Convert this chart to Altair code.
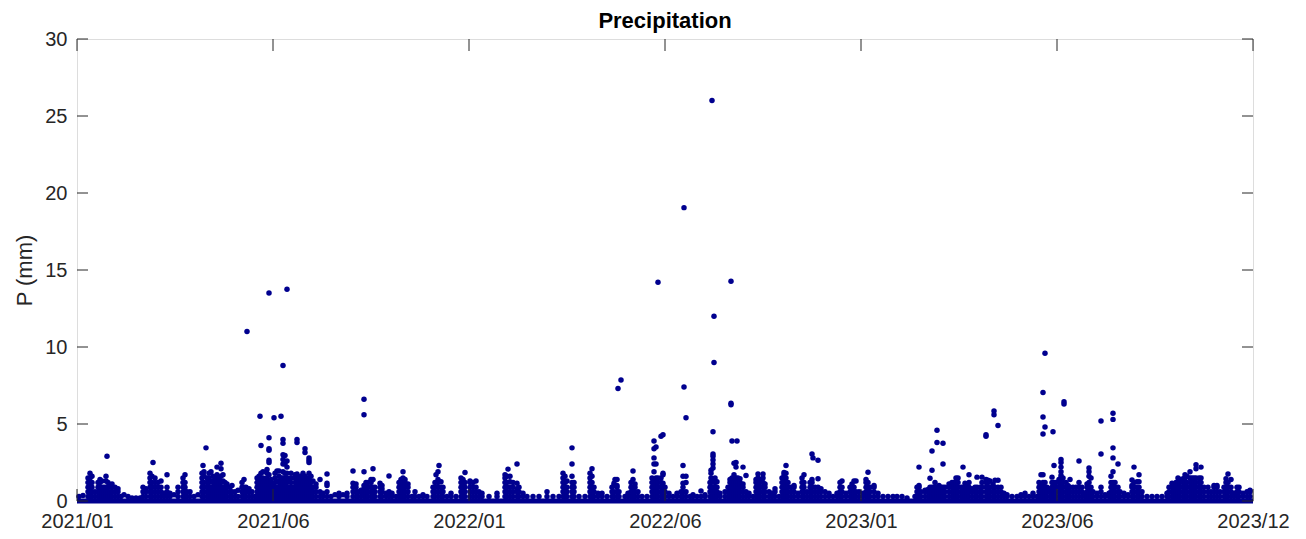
import altair as alt
import pandas as pd

# ---------------- text & axis definitions ----------------
chart_title = "Precipitation"
x_tick_labels = ["2021/01", "2021/06", "2022/01", "2022/06", "2023/01", "2023/06", "2023/12"]
x_tick_pos = [0, 196, 392, 588, 784, 980, 1176]      # sample-index units along the record
y_ticks = [0, 5, 10, 15, 20, 25, 30]
record_start = [0]
record_end = [1176]

# ---------------- precipitation observations (index, [values in mm]) ----------------
cols_a = [
    (2, [0.3]), (6, [0.35]),
    (11, [0.3, 0.6, 0.9, 1.2, 1.5]), (13, [0.3, 0.6, 0.9, 1.2, 1.5, 1.8]),
    (15, [0.3, 0.6, 0.9, 1.2, 1.6]), (18, [0.3, 0.6]),
    (21, [0.3, 0.6, 0.9, 1.2]), (23, [0.3, 0.6, 0.9, 1.2, 1.4]),
    (25, [0.3, 0.6, 0.9, 1.3]), (27, [0.3, 0.6, 0.9]),
    (29, [0.3, 0.6, 0.9, 1.3, 1.6]), (30, [2.9]),
    (31, [0.3, 0.6, 0.9, 1.2]), (33, [0.3, 0.6, 1.0]), (35, [0.3, 0.6, 0.9, 1.1]),
    (38, [0.3, 0.6, 0.9]), (41, [0.3, 0.6, 0.8]),
    (44, [0.3]), (47, [0.4]), (51, [0.3]), (55, [0.2]), (59, [0.2]), (63, [0.2]),
    (66, [0.3, 0.6, 0.9]), (69, [0.3, 0.6, 0.8]),
    (73, [0.3, 0.6, 0.9, 1.2, 1.5, 1.8]), (75, [0.3, 0.6, 0.9, 1.2, 1.6]), (76, [2.5]),
    (78, [0.3, 0.6, 0.9, 1.2, 1.5]), (81, [0.3, 0.6, 0.9, 1.2]), (84, [0.3, 0.6, 0.9, 1.3]),
    (87, [0.3, 0.5]), (90, [0.3, 0.6, 0.9, 1.7]), (93, [0.3, 0.5]), (97, [0.4]),
    (101, [0.3, 0.6, 0.9]), (106, [0.3, 0.6, 0.9, 1.2, 1.5]), (108, [0.3, 0.6, 0.9, 1.2, 1.7]),
    (110, [0.3, 0.6]), (113, [0.3, 0.6]), (117, [0.3]), (121, [0.4]),
    (125, [0.3, 0.6, 0.9, 1.2, 1.5, 1.8]), (126, [2.3]),
    (127, [0.3, 0.6, 0.9, 1.2, 1.6, 1.9]), (129, [3.45]),
    (130, [0.3, 0.6, 0.9, 1.2, 1.5]), (132, [0.3, 0.6, 0.9, 1.2, 1.5, 1.8]),
    (134, [0.3, 0.6, 0.9, 1.3, 1.9]), (136, [0.3, 0.6, 0.9, 1.2, 1.6]),
    (138, [0.3, 0.6, 0.9, 1.2, 1.5]), (140, [0.3, 0.6, 0.9, 1.2, 1.7, 2.2]),
    (142, [0.3, 0.6, 0.9, 1.2, 1.5]), (144, [0.3, 0.6, 0.9, 1.2, 1.6, 2.1, 2.45]),
    (146, [0.3, 0.6, 0.9, 1.3, 1.7]), (148, [0.3, 0.6, 0.9, 1.2]),
    (150, [0.3, 0.6, 0.9, 1.1]), (153, [0.3, 0.6, 0.9]), (155, [0.3, 0.6, 1.0]),
    (158, [0.3, 0.6]), (161, [0.3, 0.7]),
    (165, [0.3, 0.6, 0.9, 1.2]), (167, [0.3, 0.6, 0.9, 1.4]), (169, [0.3, 0.6, 0.9]),
    (170, [11.0]), (172, [0.3, 0.6, 0.8]), (175, [0.3, 0.6]), (178, [0.3]),
    (180, [0.3, 0.6, 0.9, 1.2, 1.5]), (182, [0.3, 0.6, 0.9, 1.2, 1.6]), (183, [5.5]),
    (184, [0.3, 0.6, 0.9, 1.2, 1.5, 1.8, 3.6]), (186, [0.3, 0.6, 0.9, 1.2, 1.5, 1.9]),
    (188, [0.3, 0.6, 0.9, 1.2]), (190, [0.3, 0.6, 0.9, 1.2, 1.5, 1.8, 2.05]),
    (192, [0.3, 0.6, 0.9, 1.2, 1.7, 2.5, 2.65, 3.3, 3.4, 4.1, 13.5]),
    (194, [0.3, 0.6, 0.9, 1.2, 1.4]), (196, [0.3, 0.6, 0.9, 1.1]), (197, [5.4]),
    (198, [0.3, 0.6, 0.9, 1.2, 1.5, 1.8]), (200, [0.3, 0.6, 0.9, 1.3, 1.95]),
    (202, [0.3, 0.6, 0.9, 1.2, 1.6, 1.95]), (204, [0.3, 0.6, 0.9, 1.2, 1.5, 5.5]),
    (206, [0.3, 0.6, 0.9, 1.2, 1.5, 1.9, 2.4, 2.7, 3.0, 3.75, 4.0, 8.8]),
    (208, [0.3, 0.6, 0.9, 1.2, 1.5, 1.8, 2.4, 2.95]),
    (210, [0.3, 0.6, 0.9, 1.2, 1.5, 1.8, 2.2, 2.6, 13.75]),
    (212, [0.3, 0.6, 0.9, 1.3]), (214, [0.3, 0.6, 0.9, 1.2, 1.5, 1.8]),
    (216, [0.3, 0.6, 0.9]), (218, [0.3, 0.6, 0.9, 1.2, 1.5, 1.7]),
    (220, [0.3, 0.6, 0.9, 1.2, 1.5, 1.75, 3.8, 4.0]), (222, [0.3, 0.6, 0.9, 1.2, 1.5]),
    (224, [0.3, 0.6, 0.9, 1.2, 1.6]), (226, [0.3, 0.6, 0.9, 1.2, 1.5, 1.8]),
    (228, [0.3, 0.6, 0.9, 1.2, 1.6, 3.15, 3.4]), (230, [0.3, 0.6, 0.9, 1.2, 1.5]),
    (232, [0.3, 0.6, 0.9, 1.2, 1.5, 1.8, 2.5, 2.65, 2.8]), (234, [0.3, 0.6, 0.9, 1.2, 1.6]),
    (236, [0.3, 0.6, 0.9, 1.3]), (239, [0.3, 0.6, 0.9, 1.1]), (243, [0.3, 0.6, 1.4]),
    (246, [0.3, 0.5]), (250, [0.3, 0.6, 1.0, 1.15, 1.75]), (254, [0.3]), (258, [0.4]),
    (262, [0.3, 0.5]), (266, [0.4]), (270, [0.3, 0.5]),
    (276, [0.3, 0.6, 0.9, 1.15, 1.95]), (279, [0.3, 0.6, 0.9, 1.1]), (281, [0.3, 0.6]),
    (284, [0.3, 0.6, 0.7]), (287, [0.3, 0.5, 0.8, 1.0, 1.9, 5.6, 6.6]),
    (289, [0.3, 0.6, 0.9, 1.2]), (291, [0.3, 0.6, 0.9, 1.2]), (294, [0.3, 0.6, 0.9, 1.2, 1.4]),
    (296, [0.3, 0.6, 0.9, 1.4, 2.1]), (298, [0.3, 0.6, 0.9]),
    (303, [0.3, 0.6, 0.9, 1.15]), (305, [0.3, 0.6, 0.8, 1.0]), (309, [0.3, 0.5]),
    (312, [0.3, 0.6, 1.63]), (315, [0.3, 0.5]), (319, [0.3]),
    (322, [0.3, 0.6, 0.9, 1.2]), (324, [0.3, 0.6, 0.9, 1.2, 1.4]),
    (326, [0.3, 0.6, 0.9, 1.2, 1.5, 1.9]), (328, [0.3, 0.6, 0.9, 1.2, 1.4]),
    (331, [0.3, 0.6, 0.9, 1.1]), (335, [0.3]), (338, [0.3, 0.6]), (342, [0.3]),
    (346, [0.3, 0.4]), (350, [0.3]),
    (356, [0.3, 0.6, 0.9]), (358, [0.3, 0.6, 0.9, 1.2]), (359, [1.7]),
    (361, [0.3, 0.6, 0.9, 1.2, 1.4, 1.9]), (362, [2.3]), (364, [0.3, 0.6, 0.9, 1.25]),
    (366, [0.3, 0.6, 0.9]), (370, [0.3]), (374, [0.3, 0.5]), (379, [0.3]),
    (384, [0.3, 0.6, 0.9, 1.2, 1.5]), (386, [0.3, 0.6, 0.9, 1.2, 1.4]),
    (388, [0.3, 0.6, 0.9, 1.2, 1.85]),
]

cols_b = [
    (393, [0.3, 0.6, 0.9, 1.2, 1.3]), (396, [0.3, 0.6, 0.9, 1.2]), (399, [0.3, 0.6, 0.9, 1.3]),
    (402, [0.3, 0.6]), (405, [0.3, 0.5]), (412, [0.3]), (420, [0.3, 0.5]),
    (428, [0.3, 0.6, 0.9, 1.2, 1.5, 1.7]), (430, [0.3, 0.6, 0.9, 1.2, 1.6]), (431, [2.07]),
    (433, [0.3, 0.6, 0.9, 1.25, 1.6]), (436, [0.3, 0.6, 0.9, 1.2]),
    (440, [0.3, 0.6, 0.8, 1.15, 2.4]), (442, [0.3, 0.6, 0.9]), (446, [0.3, 0.5]),
    (450, [0.3]), (456, [0.3]), (462, [0.3]), (470, [0.3, 0.6]), (476, [0.3]), (482, [0.3]),
    (486, [0.3, 0.6, 0.9, 1.2, 1.5, 1.8]), (488, [0.3, 0.6, 0.9, 1.2, 1.6]),
    (490, [0.3, 0.6, 0.9, 1.3]), (495, [0.3, 0.6, 0.9, 1.2, 1.6, 2.4, 3.45]),
    (497, [0.3, 0.6, 0.9, 1.2]), (502, [0.3]), (508, [0.3]),
    (513, [0.3, 0.6, 0.9, 1.2, 1.5, 1.8]), (515, [0.3, 0.6, 0.9, 1.2, 1.6, 2.1]),
    (517, [0.3, 0.6, 0.9]), (521, [0.3, 0.5]), (525, [0.3, 0.5]), (530, [0.3]),
    (535, [0.3, 0.6, 0.9]), (537, [0.3, 0.6, 1.0, 1.15]), (538, [1.4]),
    (540, [0.3, 0.6, 0.9, 1.0, 1.4]), (541, [7.3]), (542, [0.3, 0.6]), (544, [7.85]),
    (548, [0.3]), (551, [0.3, 0.5]), (554, [0.3, 0.6, 0.9, 1.2]),
    (556, [0.3, 0.6, 0.9, 1.4, 1.95]), (558, [0.3, 0.6, 0.9, 1.1]), (561, [0.3, 0.6]),
    (565, [0.3]), (570, [0.3]), (575, [0.3, 0.6, 0.9, 1.2, 1.5]),
    (577, [0.3, 0.6, 0.9, 1.2, 1.4, 1.9, 2.4, 2.8, 3.4, 3.9]),
    (579, [0.3, 0.6, 0.9, 1.2, 1.5, 2.4, 3.5]), (581, [0.3, 0.6, 0.9, 1.2, 1.5, 14.2]),
    (584, [0.3, 0.6, 0.9, 1.2, 1.5, 4.2]), (586, [0.3, 0.6, 0.9, 1.15, 1.7, 1.8, 4.3]),
    (588, [0.3, 0.6, 0.9]), (592, [0.3, 0.5]), (596, [0.3]), (600, [0.3, 0.5]),
    (604, [0.3, 0.6]), (606, [0.3, 0.6, 0.9, 1.15, 1.6, 2.3]), (607, [7.4, 19.05]),
    (609, [0.3, 0.6, 1.2, 1.6, 5.4]), (613, [0.3]), (616, [0.3, 0.4]), (620, [0.3]),
    (624, [0.3, 0.65]), (628, [0.3, 0.4]), (633, [0.3, 0.6, 0.9, 1.2]),
    (634, [0.3, 0.6, 0.9, 1.2, 1.5, 1.8, 2.0]), (635, [26.0]),
    (636, [0.3, 0.6, 0.9, 1.25, 2.15, 2.4, 2.66, 2.9, 3.05, 4.5]), (637, [9.0, 12.0]),
    (638, [0.3, 0.6, 0.9, 1.2, 1.5]), (640, [0.3, 0.6, 0.9, 1.25]), (643, [0.3, 0.5]),
    (648, [0.3, 0.6]), (651, [0.3, 0.6, 0.9]), (653, [0.3, 0.6, 0.9, 1.2, 1.4]),
    (654, [6.25, 6.35, 14.27]), (655, [0.3, 0.6, 0.9, 1.2, 1.5, 3.9]),
    (657, [0.3, 0.6, 0.9, 1.2, 1.5, 1.7, 2.45]), (659, [0.3, 0.6, 0.9, 1.2, 1.5, 2.2, 2.5]),
    (660, [3.9]), (661, [0.3, 0.6, 0.9, 1.2, 1.5]), (663, [0.3, 0.6, 0.9, 1.2, 1.45]),
    (666, [0.3, 0.6, 0.9, 1.1, 2.2]), (669, [0.3, 0.6, 1.65]), (672, [0.3, 0.5]), (676, [0.3]),
    (679, [0.3, 0.6, 0.9, 1.2, 1.4]), (681, [0.3, 0.6, 0.9, 1.2, 1.5, 1.75]),
    (683, [0.3, 0.6, 0.9, 1.2, 1.4]), (686, [0.3, 0.6, 0.9, 1.2, 1.5, 1.75]),
    (688, [0.3, 0.6, 0.9, 1.1]), (692, [0.3, 0.6]), (695, [0.3, 0.5]), (698, [0.3, 0.6, 0.8]),
    (702, [0.3]), (705, [0.3, 0.6, 0.9, 1.2, 1.5]), (707, [0.3, 0.6, 0.9, 1.2, 1.5, 1.7, 1.85]),
    (709, [0.3, 0.6, 0.9, 1.2, 1.5, 1.8, 2.3]), (711, [0.3, 0.6, 0.9, 1.2]),
    (714, [0.3, 0.6, 0.9]), (717, [0.3, 0.6, 0.9, 1.0]), (721, [0.3, 0.5]),
    (725, [0.3, 0.6, 0.9, 1.2, 1.5]), (727, [0.3, 0.6, 0.9, 1.2, 1.7]), (730, [0.3, 0.6]),
    (733, [0.3, 0.6, 0.9, 1.2]), (735, [0.3, 0.6, 0.9, 1.2, 1.4, 3.05]), (736, [2.8]),
    (738, [0.3, 0.6, 0.9]), (741, [0.3, 0.6, 0.9, 1.45, 2.65]), (744, [0.3, 0.6, 0.8]),
    (748, [0.3, 0.6]), (752, [0.3, 0.5]), (756, [0.3]), (760, [0.3, 0.5]),
    (763, [0.3, 0.6, 0.9, 1.2]), (765, [0.3, 0.6, 0.9, 1.3]), (769, [0.3, 0.5]),
    (773, [0.3, 0.6, 0.9]), (775, [0.3, 0.6, 0.9, 1.1]), (777, [0.3, 0.6, 0.9, 1.3]),
    (779, [0.3, 0.6, 1.3]), (782, [0.3, 0.6]),
]

cols_c = [
    (786, [0.3, 0.5]), (789, [0.3, 0.6, 0.9, 1.2, 1.4]), (791, [0.3, 0.6, 0.9, 1.2, 1.86]),
    (793, [0.3, 0.6, 0.9]), (797, [0.3, 0.6, 0.9, 1.0]), (801, [0.3, 0.5]), (806, [0.3]),
    (811, [0.3]), (816, [0.3]), (820, [0.3]), (825, [0.3]), (830, [0.2]), (838, [0.3]),
    (840, [0.3, 0.6, 0.9]), (842, [0.3, 0.6, 0.9, 1.0, 2.2]), (844, [0.3, 0.6]),
    (848, [0.3, 0.6, 0.7]), (851, [0.3, 0.6, 0.75]), (853, [0.3, 0.6, 0.9, 1.47]),
    (855, [0.3, 0.6, 0.9, 2.0, 3.25]), (857, [0.3, 0.6, 0.9]), (858, [0.3, 0.6, 1.2]),
    (860, [0.3, 0.6, 0.9, 3.8, 4.6]), (862, [0.3, 0.6, 0.9, 1.0]), (864, [0.3, 0.6, 0.9]),
    (866, [0.3, 0.6, 0.9, 2.4, 3.75]), (868, [0.3, 0.6, 0.9]), (872, [0.3, 0.6, 0.9, 1.1]),
    (875, [0.3, 0.6, 0.9, 1.2]), (877, [0.3, 0.6, 0.9, 1.2]), (879, [0.3, 0.6, 0.9, 1.2, 1.5]),
    (881, [0.3, 0.6, 0.9, 1.2, 1.5]), (884, [0.3, 0.6, 0.9]), (886, [0.3, 0.6, 0.9, 2.2]),
    (888, [0.3, 0.6, 0.9, 1.15]), (890, [0.3, 0.6, 0.9, 1.1]), (892, [0.3, 0.6, 0.9, 1.2, 1.7]),
    (895, [0.3, 0.6, 0.8]), (898, [0.3, 0.6, 0.9]), (900, [0.3, 0.6, 0.9, 1.55]),
    (903, [0.3, 0.6, 0.9]), (905, [0.3, 0.6, 0.9, 1.2, 1.55]),
    (909, [0.3, 0.6, 0.9, 1.2, 1.4, 4.2, 4.3]), (911, [0.3, 0.6, 0.9, 1.2, 1.35]),
    (913, [0.3, 0.6, 0.9, 1.3]), (916, [0.3, 0.6, 0.9, 1.1]), (917, [5.6, 5.85]),
    (918, [0.3, 0.6, 0.9, 1.35]), (921, [0.3, 0.6, 0.9, 1.35, 4.9]), (924, [0.3, 0.6, 0.9]),
    (927, [0.3, 0.5]), (930, [0.3, 0.4]), (935, [0.3]), (940, [0.3]), (944, [0.3, 0.4]),
    (948, [0.3, 0.5]), (952, [0.3]), (956, [0.3, 0.5]), (960, [0.3]),
    (962, [0.3, 0.6, 0.9, 1.2]), (964, [0.3, 0.6, 0.9, 1.1, 1.7]),
    (966, [0.3, 0.6, 0.9, 1.2, 1.7, 4.35, 5.45, 7.05]), (968, [0.3, 0.6, 0.9, 1.2, 4.8, 9.6]),
    (970, [0.3, 0.6, 0.9]), (973, [0.3, 0.6, 0.8]), (975, [0.3, 0.6, 0.9, 1.2, 1.55]),
    (976, [4.5]), (977, [0.3, 0.6, 0.9, 1.2, 2.3]), (979, [0.3, 0.6, 0.9, 1.2]),
    (982, [0.3, 0.6, 0.9, 1.2, 1.4]), (984, [0.3, 0.6, 0.9, 1.2, 1.5, 1.65, 1.9, 2.2, 2.5, 2.7]),
    (986, [0.3, 0.6, 0.9, 1.2, 1.5]), (987, [6.3, 6.45]), (989, [0.3, 0.6, 0.9, 1.2]),
    (991, [0.3, 0.6, 0.9, 1.0]), (993, [0.3, 0.6, 0.9, 1.4]), (996, [0.3, 0.6, 0.9]),
    (999, [0.3, 0.6, 0.9]), (1002, [0.3, 0.6, 0.9, 1.2, 2.6]), (1005, [0.3, 0.6, 0.9]),
    (1008, [0.3, 0.5]), (1010, [0.3, 0.6, 0.9, 1.1]), (1012, [0.3, 0.6, 0.9, 1.2, 1.6, 1.9, 2.15]),
    (1014, [0.3, 0.6, 0.9, 1.5]), (1016, [0.3, 0.6]), (1020, [0.3, 0.5]),
    (1024, [0.3, 0.6, 0.9, 3.05, 5.2]), (1028, [0.3, 0.4]), (1032, [0.3, 0.5]),
    (1034, [0.3, 0.6, 0.9, 1.2, 1.6]), (1036, [0.3, 0.6, 0.9, 1.2, 1.9, 2.8, 3.45, 5.3, 5.7]),
    (1038, [0.3, 0.6, 0.9, 1.2]), (1041, [0.3, 0.6, 0.9, 2.4]), (1043, [0.3, 0.6]),
    (1047, [0.3, 0.5]), (1051, [0.3, 0.4]), (1055, [0.3, 0.6, 0.9, 1.0, 1.36]),
    (1057, [0.3, 0.6, 0.9, 1.2, 2.2]), (1060, [0.3, 0.6, 0.9, 1.25]),
    (1062, [0.3, 0.6, 0.9, 1.25, 1.7]), (1065, [0.3, 0.6]), (1070, [0.3]), (1075, [0.3]),
    (1080, [0.3]), (1085, [0.3]), (1090, [0.3, 0.5]), (1092, [0.3, 0.6, 0.9]),
    (1095, [0.3, 0.6, 0.9, 1.15]), (1097, [0.3, 0.6, 0.9, 1.0]), (1099, [0.3, 0.6, 0.9, 1.2]),
    (1101, [0.3, 0.6, 0.9, 1.2, 1.5]), (1103, [0.3, 0.6, 0.9, 1.2, 1.4]),
    (1106, [0.3, 0.6, 0.9, 1.2, 1.45]), (1108, [0.3, 0.6, 0.9, 1.2, 1.5, 1.7]),
    (1110, [0.3, 0.6, 0.9, 1.2, 1.6]), (1113, [0.3, 0.6, 0.9, 1.2, 1.5, 1.9]),
    (1115, [0.3, 0.6, 0.9, 1.2, 1.5]), (1117, [0.3, 0.6, 0.9, 1.2, 1.5]),
    (1119, [0.3, 0.6, 0.9, 1.2, 1.5, 2.1, 2.35]), (1122, [0.3, 0.6, 0.9, 1.2, 1.5]),
    (1124, [0.3, 0.6, 0.9, 1.2, 1.5, 2.2]), (1127, [0.3, 0.6, 0.9]), (1131, [0.3, 0.6, 0.9]),
    (1134, [0.3, 0.6]), (1137, [0.3, 0.6, 0.9, 1.0]), (1140, [0.3, 0.6, 0.9, 1.0]),
    (1143, [0.3, 0.6]), (1147, [0.3, 0.6, 0.9]), (1149, [0.3, 0.6, 0.9, 1.2, 1.45]),
    (1151, [0.3, 0.6, 0.9, 1.2, 1.75]), (1154, [0.3, 0.6, 0.9, 1.4]), (1157, [0.3, 0.5]),
    (1160, [0.3, 0.6, 0.9]), (1162, [0.3, 0.6, 0.9]), (1166, [0.3, 0.5]),
    (1170, [0.3, 0.6]), (1173, [0.3, 0.6, 0.7]),
]

# ---------------- build tables ----------------
rows = [{"idx": i, "P": v} for cols in (cols_a, cols_b, cols_c) for i, vals in cols for v in vals]
df = pd.DataFrame(rows)
span_df = pd.DataFrame({"idx": record_start, "end": record_end, "P": [0.0]})
yt_df = pd.DataFrame({"P": y_ticks})
xt_df = pd.DataFrame({"idx": x_tick_pos})
title_df = pd.DataFrame({"label": [chart_title]})

BLUE = "#00008F"
FONT = "Liberation Sans"
TXT = "#262626"
W, H = 1176, 462

xs = alt.Scale(domain=[0, 1176], nice=False, zero=False)
ys = alt.Scale(domain=[0, 30], nice=False)

label_expr = "[" + ",".join("'%s'" % s for s in x_tick_labels) + "][round(datum.value/196)]"

x_axis = alt.Axis(values=x_tick_pos, labelExpr=label_expr, title=None, ticks=False,
                  domain=False, grid=False, labelFontSize=20, labelFont=FONT,
                  labelColor=TXT, labelPadding=10, labelFlush=False)
y_axis = alt.Axis(values=y_ticks, title="P (mm)", ticks=False, domain=False, grid=False,
                  labelFontSize=20, labelFont=FONT, labelColor=TXT, labelPadding=10,
                  titleFontSize=22, titleFont=FONT, titleColor=TXT, titleFontWeight="normal",
                  titlePadding=8)

X = alt.X("idx:Q", scale=xs, axis=x_axis, title=None)
Y = alt.Y("P:Q", scale=ys, axis=y_axis, title="P (mm)")

points = alt.Chart(df).mark_circle(size=30, color=BLUE, opacity=1).encode(x=X, y=Y)

zero_band = alt.Chart(span_df).mark_rule(color=BLUE, strokeWidth=5).encode(
    x=X, x2="end:Q", y=Y)

tick_color = "#262626"
left_ticks = alt.Chart(yt_df).mark_rule(color=tick_color, strokeWidth=1).encode(
    y=Y, x=alt.value(0), x2=alt.value(11))
right_ticks = alt.Chart(yt_df).mark_rule(color=tick_color, strokeWidth=1).encode(
    y=Y, x=alt.value(W - 11), x2=alt.value(W))
top_ticks = alt.Chart(xt_df).mark_rule(color=tick_color, strokeWidth=1).encode(
    x=X, y=alt.value(0), y2=alt.value(12))
bottom_ticks = alt.Chart(xt_df).mark_rule(color=tick_color, strokeWidth=1).encode(
    x=X, y=alt.value(H - 12), y2=alt.value(H))

title_text = alt.Chart(title_df).mark_text(
    font=FONT, fontSize=22, fontWeight="bold", color="#000000",
    align="center", baseline="alphabetic").encode(
    x=alt.value(W / 2), y=alt.value(-11), text="label:N")

chart = alt.layer(zero_band, points, left_ticks, right_ticks, top_ticks, bottom_ticks,
                  title_text).properties(
    width=W, height=H,
    autosize=alt.AutoSizeParams(type="none"),
    padding={"left": 69, "top": 31, "right": 45, "bottom": 30},
).configure_view(stroke="#808080", strokeWidth=1).configure(background="white")

chart.save("out.html", embed_options={"renderer": "svg", "actions": False})
